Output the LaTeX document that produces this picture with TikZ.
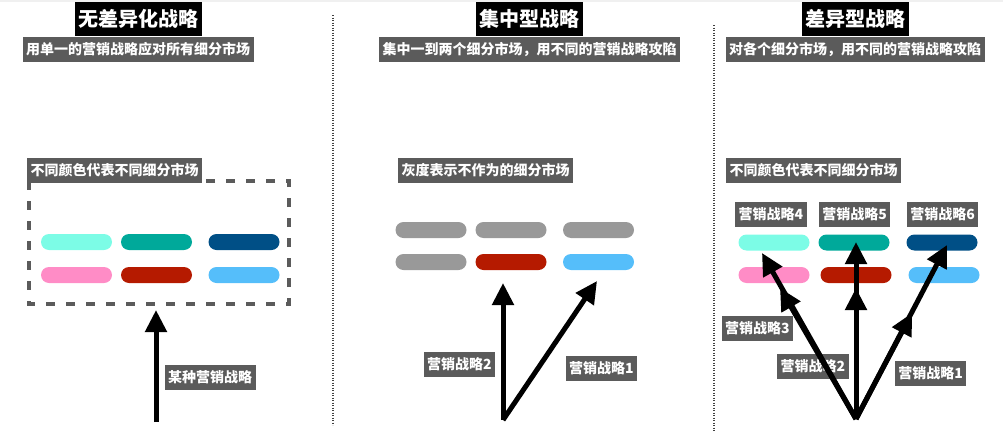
\documentclass[tikz,border=0pt]{standalone}
\usepackage{fontspec}
\setmainfont{Noto Sans CJK SC}
\usetikzlibrary{arrows.meta,positioning}
\definecolor{tagGray}{HTML}{5B5B5B}
\definecolor{segAqua}{HTML}{7CFCE6}
\definecolor{segTeal}{HTML}{00A99A}
\definecolor{segNavy}{HTML}{004F86}
\definecolor{segPink}{HTML}{FF8CC6}
\definecolor{segRed}{HTML}{B51A00}
\definecolor{segSky}{HTML}{55BEFA}
\definecolor{segGray}{HTML}{999999}

\begin{document}
\begin{tikzpicture}[x=1pt,y=-1pt,>={Triangle[length=22pt,width=21pt]},node distance=33pt,
                    title node/.style={fill=black,text=white,font=\fontsize{20}{20}\selectfont\bfseries,
                                       minimum width=127pt,minimum height=34pt,inner sep=0pt},
                    tag node/.style={fill=tagGray,text=white,font=\fontsize{14}{14}\selectfont\bfseries,
                                     minimum height=25pt,inner xsep=3.5pt,inner ysep=0pt},
                    pill node/.style={rounded corners=8pt,minimum width=71pt,minimum height=16pt,inner sep=0pt},
                    arrow line/.style={->,line width=5pt}]
  \useasboundingbox (0,0) rectangle (1003,431);
  \fill[black!6] (0,0) rectangle (1003,2);
  % separators
  \draw[line width=1.3pt,black!75,dash pattern=on 1.3pt off 1.2pt] (333,15) -- (333,425);
  \draw[line width=1.3pt,black!75,dash pattern=on 1.3pt off 1.2pt] (714,25) -- (714,431);

  % left panel
  \draw[tagGray,line width=4pt,dash pattern=on 9pt off 11pt] (29,181) rectangle (289,304);
  \node[title node] (t1) at (138.5,19) {无差异化战略};
  \node[tag node] (s1) at (138,49.5) {用单一的营销战略应对所有细分市场};
  \node[tag node] (n1) at (114.5,170.5) {不同颜色代表不同细分市场};
  \node[pill node,fill=segAqua] (a1) at (76.5,242) {};
  \node[pill node,fill=segTeal] (a2) at (156.5,242) {};
  \node[pill node,fill=segNavy] (a3) at (244,242) {};
  \node[pill node,fill=segPink] (a4) [below of=a1] {};
  \node[pill node,fill=segRed]  (a5) [below of=a2] {};
  \node[pill node,fill=segSky]  (a6) [below of=a3] {};
  \node[tag node] (l1) at (210,377) {某种营销战略};
  \coordinate (o1) at (156,422);
  \coordinate (e1) at (156,310);

  % middle panel
  \node[title node,minimum width=107pt] (t2) at (529.5,19) {集中型战略};
  \node[tag node] (s2) at (529.5,49.5) {集中一到两个细分市场，用不同的营销战略攻陷};
  \node[tag node] (n2) at (485.5,170.5) {灰度表示不作为的细分市场};
  \node[pill node,fill=segGray] (b1) at (431,230) {};
  \node[pill node,fill=segGray] (b2) at (511,230) {};
  \node[pill node,fill=segGray] (b3) at (598.5,230) {};
  \node[pill node,fill=segGray] (b4) [below of=b1,node distance=32pt] {};
  \node[pill node,fill=segRed]  (b5) [below of=b2,node distance=32pt] {};
  \node[pill node,fill=segSky]  (b6) [below of=b3,node distance=32pt] {};
  \node[tag node] (l2) at (459.5,364.5) {营销战略2};
  \node[tag node] (l3) at (601.5,368.5) {营销战略1};
  \coordinate (o2) at (503,420);
  \coordinate (e2) at (503,283);
  \coordinate (e3) at (597,281);

  % right panel
  \node[title node,minimum width=107pt] (t3) at (855.5,19) {差异型战略};
  \node[tag node] (s3) at (855,49.5) {对各个细分市场，用不同的营销战略攻陷};
  \node[tag node] (n3) at (813.5,170.5) {不同颜色代表不同细分市场};
  \node[tag node] (l4) at (771,214.5) {营销战略4};
  \node[tag node] (l5) at (854.5,214.5) {营销战略5};
  \node[tag node] (l6) at (942.5,214.5) {营销战略6};
  \node[pill node,fill=segAqua] (c1) at (774,242.5) {};
  \node[pill node,fill=segTeal] (c2) at (854,242.5) {};
  \node[pill node,fill=segNavy] (c3) at (942,242.5) {};
  \node[pill node,fill=segPink] (c4) at (774,275) {};
  \node[pill node,fill=segRed]  (c5) at (856,275) {};
  \node[pill node,fill=segSky]  (c6) at (944,275) {};
  \node[tag node] (l7) at (757.5,328.5) {营销战略3};
  \node[tag node] (l8) at (813,366.5) {营销战略2};
  \node[tag node] (l9) at (930.5,373.5) {营销战略1};
  \coordinate (o3) at (856,419);
  \coordinate (f1) at (762,253);
  \coordinate (f2) at (780,288);
  \coordinate (f3) at (856,242);
  \coordinate (f4) at (856,288);
  \coordinate (f5) at (947,245);
  \coordinate (f6) at (912,313);

  \path[arrow line]
    (o1) edge (e1)
    (o2) edge (e2)
         edge (e3)
    (o3) edge (f1)
         edge (f2)
         edge (f3)
         edge (f4)
         edge (f5)
         edge (f6);
\end{tikzpicture}
\end{document}
